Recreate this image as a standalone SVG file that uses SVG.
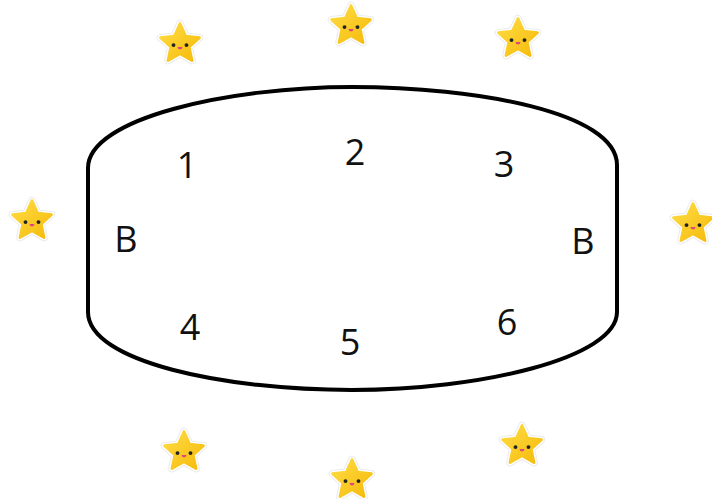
<svg xmlns="http://www.w3.org/2000/svg" width="712" height="499" viewBox="0 0 712 499">
<style>
.lbl{font-family:"Open Sans","Noto Sans",sans-serif;font-size:36px;fill:#111;text-anchor:middle}
</style>
<defs>
<linearGradient id="sg" x1="0" y1="0" x2="1" y2="1">
<stop offset="0" stop-color="#FFDD45"/>
<stop offset="1" stop-color="#F5BA0A"/>
</linearGradient>
<path id="sp" d="M0,-19 L5.29,-7.28 L18.07,-5.87 L8.56,2.78 L11.17,15.37 L0,9 L-11.17,15.37 L-8.56,2.78 L-18.07,-5.87 L-5.29,-7.28 Z" stroke-linejoin="round"/>
<g id="star">
<g transform="scale(1.08)">
<use href="#sp" fill="#fff" stroke="#ececec" stroke-width="7"/>
<use href="#sp" fill="#fff" stroke="#fff" stroke-width="5"/>
<use href="#sp" fill="url(#sg)" stroke="url(#sg)" stroke-width="2.5"/>
<circle cx="-6" cy="1" r="1.8" fill="#222"/>
<circle cx="6" cy="1" r="1.8" fill="#222"/>
<path d="M-2.3,2.8 A2.3,2.3 0 0 0 2.3,2.8 Z" fill="#E0457B"/>
</g>
</g>
</defs>
<g id="stars">
<use href="#star" x="180" y="44"/>
<use href="#star" x="351" y="26"/>
<use href="#star" x="518" y="39"/>
<use href="#star" x="32" y="221"/>
<use href="#star" x="693" y="224"/>
<use href="#star" x="184" y="452"/>
<use href="#star" x="352" y="480"/>
<use href="#star" x="522" y="446"/>
</g>
<g id="table">
<path d="M88,168 C88,118 230,87 352,87 C475,87 617,112 617,165 L617,312 C617,358 480,390 352,390 C225,390 88,362 88,312 Z" fill="none" stroke="#000" stroke-width="4"/>
</g>
<g id="labels">
<text class="lbl" x="187" y="178">1</text>
<text class="lbl" x="355" y="165">2</text>
<text class="lbl" x="504" y="177">3</text>
<text class="lbl" x="126" y="252">B</text>
<text class="lbl" x="583" y="254">B</text>
<text class="lbl" x="190" y="340">4</text>
<text class="lbl" x="350" y="355">5</text>
<text class="lbl" x="507" y="335">6</text>
</g>
</svg>
